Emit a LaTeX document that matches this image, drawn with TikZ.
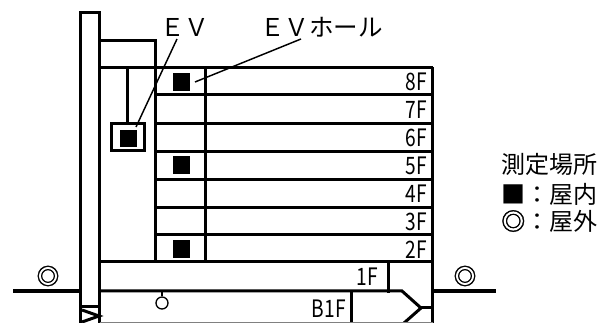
\documentclass[tikz,border=0pt]{standalone}
\usepackage{fontspec}
\setmainfont{Noto Sans CJK JP}
\newfontfamily\markfont[FakeBold=1.6]{Noto Sans CJK JP}
\begin{document}
\begin{tikzpicture}[x=0.75pt,y=-0.75pt,
  wall/.style={line width=2.25pt,line cap=butt},
  leader/.style={line width=1.1pt},
  groundline/.style={line width=3pt},
  sq/.style={fill=black,draw=none,minimum size=13.2pt,inner sep=0pt,rectangle},
  lab/.style={inner sep=0pt,font=\fontsize{18pt}{18pt}\selectfont,anchor=west},
  toplab/.style={inner sep=0pt,font=\fontsize{18.4pt}{18pt}\selectfont,anchor=west},
  flr/.style={inner sep=0pt,font=\fontsize{18pt}{18pt}\selectfont,xscale=.8,anchor=east},
  outmark/.style={inner sep=0pt,font=\fontsize{17pt}{17pt}\markfont}]
\useasboundingbox (0,0) rectangle (606,323);
% stair tower
\draw[wall] (80.5,323) -- (80.5,13) -- (99.5,13) -- (99.5,323);
\draw[wall] (99.5,41) -- (155.5,41) -- (155.5,262);
\draw[wall] (99.5,67.5) -- (432.5,67.5);
\draw[wall] (205.5,67.5) -- (205.5,262);
\draw[wall] (432.5,67.5) -- (432.5,323);
\foreach \y in {95,123.5,151.5,179.5,207.5,235}
  \draw[wall] (155.5,\y) -- (432.5,\y);
\draw[wall] (99.5,262) -- (432.5,262);
\draw[wall] (99.5,291) -- (402,291) -- (421,308) -- (404,323);
\draw[wall] (421,308) -- (432.5,308);
\draw[wall] (388.5,262) -- (388.5,293);
\draw[wall] (351,291) -- (351,323);
\draw[line width=.8pt,black!50] (99.5,322.4) -- (432.5,322.4);
% elevator
\draw[wall] (127.5,67.5) -- (127.5,124);
\draw[wall] (111,124) rectangle (144.5,151);
% squares
\node[sq] (evsq) at (128.5,138.5) {};
\node[sq] (s8) at (181.5,82) {};
\node[sq] (s5) at (181.5,165) {};
\node[sq] (s2) at (181.5,249) {};
% basement
\draw[wall] (80.5,307) -- (99.5,307);
\draw[wall] (82,310) -- (99,316) -- (82,322);
\node[circle,draw,line width=1pt,minimum size=9pt,inner sep=0pt] (lamp) at (162,303) {};
\coordinate (lamptop) at (162,291);
\draw[line width=.8pt] (lamptop) -- (lamp);
% ground
\draw[groundline] (13,291) -- (79,291);
\draw[groundline] (433,291) -- (496,291);
\node[outmark] (ml) at (48,276) {◎};
\node[outmark] (mr) at (465,276) {◎};
% labels
\node[toplab] (ev) at (160,27) {ＥＶ};
\node[toplab] (hall) at (260,27) {ＥＶホール};
\coordinate (eva) at (177,39);
\coordinate (evb) at (136,127);
\coordinate (ha) at (301,39);
\coordinate (hb) at (195,82);
\draw[leader] (eva) -- (evb);
\draw[leader] (ha) -- (hb);
\node[flr] (f8) at (427,81.5) {8F};
\node[flr] (f7) at (427,109.5) {7F};
\node[flr] (f6) at (427,137.5) {6F};
\node[flr] (f5) at (427,165.5) {5F};
\node[flr] (f4) at (427,193.5) {4F};
\node[flr] (f3) at (427,221.5) {3F};
\node[flr] (f2) at (427,249.5) {2F};
\node[flr] (f1) at (378,276.5) {1F};
\node[flr] (fb) at (346,309) {B1F};
\node[lab] (leg0) at (501,164) {測定場所};
\node[lab] (leg1) at (501,194) {■：屋内};
\node[lab] (leg2) at (501,221) {{\markfont ◎}：屋外};
\end{tikzpicture}
\end{document}
